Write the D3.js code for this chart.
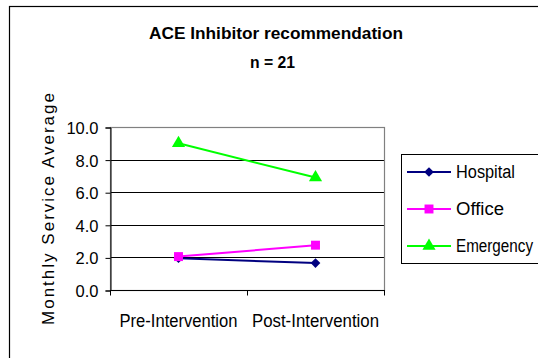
<!DOCTYPE html>
<html>
<head>
<meta charset="utf-8">
<script src="https://cdn.jsdelivr.net/npm/d3@7"></script>
<style>
  html, body { margin: 0; padding: 0; background: #fff; }
  svg { display: block; }
  text { font-family: "Liberation Sans", Arial, sans-serif; fill: #000; }
</style>
</head>
<body>
<svg id="chart" width="538" height="358"></svg>
<script>
// Data
const categories = ["Pre-Intervention", "Post-Intervention"];
const seriesNames = ["Hospital", "Office", "Emergency"];
const hospital = [1.95, 1.65];
const office = [2.05, 2.75];
const emergency = [9.0, 6.9];
const yTicks = [0, 2, 4, 6, 8, 10];

const series = [
  { name: seriesNames[0], values: hospital, color: "#000080", symbol: d3.symbolDiamond2 },
  { name: seriesNames[1], values: office, color: "#FF00FF", symbol: d3.symbolSquare },
  { name: seriesNames[2], values: emergency, color: "#00FF00", symbol: d3.symbolTriangle }
];

const svg = d3.select("#chart");

// Outer chart frame (continues past the right and bottom edges)
svg.append("rect")
  .attr("x", 9.5).attr("y", 6.5)
  .attr("width", 560).attr("height", 380)
  .attr("fill", "#fff").attr("stroke", "#000").attr("stroke-width", 1.2);

const plot = { left: 110, right: 384, top: 127, bottom: 290 };

const x = d3.scaleBand().domain(categories).range([plot.left, plot.right]);
const y = d3.scaleLinear().domain([0, 10]).range([plot.bottom, plot.top]);

// Gridlines
svg.append("g")
  .selectAll("line")
  .data(yTicks.filter(t => t > 0 && t < 10))
  .join("line")
  .attr("x1", plot.left).attr("x2", plot.right)
  .attr("y1", d => Math.round(y(d)) + 0.5).attr("y2", d => Math.round(y(d)) + 0.5)
  .attr("stroke", "#000").attr("stroke-width", 1);

// Plot-area border
svg.append("rect")
  .attr("x", plot.left + 0.5).attr("y", plot.top + 0.5)
  .attr("width", plot.right - plot.left).attr("height", plot.bottom - plot.top)
  .attr("fill", "none").attr("stroke", "#808080").attr("stroke-width", 1.2);

// Y axis
const yAxis = svg.append("g")
  .attr("transform", `translate(${plot.left + 0.5},0.5)`)
  .call(d3.axisLeft(y).tickValues(yTicks).tickFormat(d3.format(".1f")).tickSize(5).tickPadding(7));
yAxis.select(".domain").attr("stroke", "#000");
yAxis.selectAll(".tick line").attr("stroke", "#000");
yAxis.selectAll("text")
  .attr("font-size", "16.5px")
  .attr("font-family", "'Liberation Sans', Arial, sans-serif")
  .attr("dy", "0.36em");

// X axis with boundary ticks
const xAxisG = svg.append("g").attr("transform", `translate(0,${plot.bottom + 0.5})`);
xAxisG.append("line")
  .attr("x1", plot.left).attr("x2", plot.right + 1)
  .attr("stroke", "#000");
const bounds = [plot.left, plot.left + x.bandwidth(), plot.right];
xAxisG.selectAll("line.tick")
  .data(bounds)
  .join("line")
  .attr("class", "tick")
  .attr("x1", d => Math.round(d) + 0.5).attr("x2", d => Math.round(d) + 0.5)
  .attr("y1", 0).attr("y2", 5)
  .attr("stroke", "#000");

const narrow = "'Liberation Sans Narrow', 'Arial Narrow', 'Liberation Sans', sans-serif";
const xLabelWidths = [118, 127];
xAxisG.selectAll("text")
  .data(categories)
  .join("text")
  .attr("x", d => x(d) + x.bandwidth() / 2)
  .attr("y", 36.5)
  .attr("text-anchor", "middle")
  .attr("font-size", "18px")
  .attr("font-family", narrow)
  .attr("textLength", (d, i) => xLabelWidths[i])
  .attr("lengthAdjust", "spacingAndGlyphs")
  .text(d => d);

// Lines and markers
const line = d3.line()
  .x((d, i) => x(categories[i]) + x.bandwidth() / 2)
  .y(d => y(d));

series.forEach(s => {
  svg.append("path")
    .datum(s.values)
    .attr("d", line)
    .attr("fill", "none")
    .attr("stroke", s.color)
    .attr("stroke-width", 2);
});
const symbolSizes = { Hospital: 60, Office: 80, Emergency: 75 };
series.forEach(s => {
  svg.append("g")
    .selectAll("path")
    .data(s.values)
    .join("path")
    .attr("transform", (d, i) => `translate(${x(categories[i]) + x.bandwidth() / 2},${y(d)})`)
    .attr("d", d3.symbol(s.symbol, symbolSizes[s.name]))
    .attr("fill", s.color);
});

// Titles
svg.append("text")
  .attr("x", 276).attr("y", 39)
  .attr("text-anchor", "middle")
  .attr("font-size", "16px").attr("font-weight", "bold")
  .attr("textLength", 254).attr("lengthAdjust", "spacingAndGlyphs")
  .text("ACE Inhibitor recommendation");
svg.append("text")
  .attr("x", 272.5).attr("y", 68)
  .attr("text-anchor", "middle")
  .attr("font-size", "16px").attr("font-weight", "bold")
  .attr("textLength", 45).attr("lengthAdjust", "spacingAndGlyphs")
  .text("n = 21");

// Y axis title
svg.append("text")
  .attr("transform", "translate(54,209) rotate(-90)")
  .attr("text-anchor", "middle")
  .attr("font-size", "17px")
  .attr("textLength", 232).attr("lengthAdjust", "spacing")
  .text("Monthly Service Average");

// Legend
svg.append("rect")
  .attr("x", 401.5).attr("y", 154.5)
  .attr("width", 160).attr("height", 109)
  .attr("fill", "#fff").attr("stroke", "#000").attr("stroke-width", 1);

const legendY = [172, 209, 246];
const legendW = [59, 48, 77];
const lg = svg.append("g")
  .selectAll("g")
  .data(series)
  .join("g")
  .attr("transform", (d, i) => `translate(0,${legendY[i]})`);
lg.append("line")
  .attr("x1", 407).attr("x2", 451)
  .attr("stroke", d => d.color).attr("stroke-width", 2);
lg.append("path")
  .attr("transform", "translate(429,0)")
  .attr("d", d => d3.symbol(d.symbol, symbolSizes[d.name])())
  .attr("fill", d => d.color);
lg.append("text")
  .attr("x", 456).attr("y", 0).attr("dy", "0.36em")
  .attr("font-size", "18px")
  .attr("font-family", narrow)
  .attr("textLength", (d, i) => legendW[i])
  .attr("lengthAdjust", "spacingAndGlyphs")
  .text(d => d.name);
</script>
</body>
</html>
